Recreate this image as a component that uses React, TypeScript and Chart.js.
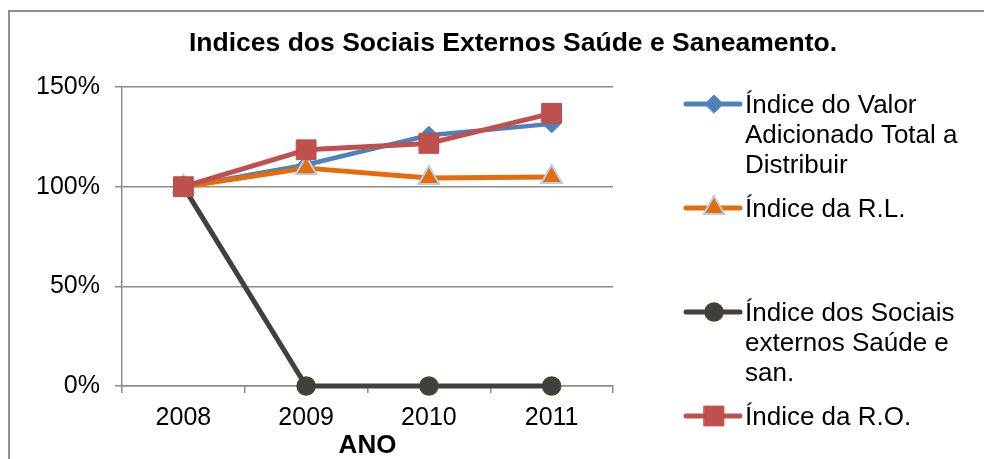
import React, { useEffect, useRef } from 'react';
import { Chart, registerables } from 'chart.js';
import { drawPoint } from 'chart.js/helpers';

Chart.register(...registerables);

// ---------- data ----------
const years = ['2008', '2009', '2010', '2011'];
const indiceValorAdicionado = [1.0, 1.11, 1.258, 1.315];
const indiceRL = [1.0, 1.093, 1.043, 1.048];
const indiceSociaisExternos = [1.0, 0, 0, 0];
const indiceRO = [1.0, 1.185, 1.217, 1.368];
const seriesLabels = [
  ['Índice do Valor', 'Adicionado Total a', 'Distribuir'],
  ['Índice da R.L.'],
  ['Índice dos Sociais', 'externos Saúde e', 'san.'],
  ['Índice da R.O.'],
];
const yTickValues = [0, 0.5, 1.0, 1.5];
const chartTitle = 'Indices dos Sociais Externos Saúde e Saneamento.';
const xAxisTitle = 'ANO';

const FONT = '"Liberation Sans", Arial, Helvetica, sans-serif';
const GRID = '#8c8c8c';

const titleAndLegend = {
  id: 'titleAndLegend',
  afterDraw(chart: any) {
    const ctx = chart.ctx as CanvasRenderingContext2D;
    // title
    ctx.save();
    ctx.fillStyle = '#000';
    ctx.font = `bold 26.5px ${FONT}`;
    ctx.textAlign = 'center';
    ctx.textBaseline = 'alphabetic';
    ctx.fillText(chartTitle, 513, 51);
    ctx.restore();

    // legend
    const x0 = 686;
    const x1 = 740;
    const tx = 745;
    const firstBaseline = 113;
    const step = 104;
    const lineGap = 30;
    chart.data.datasets.forEach((ds: any, i: number) => {
      const base = firstBaseline + i * step;
      const ly = base - 9;
      ctx.save();
      ctx.strokeStyle = ds.borderColor;
      ctx.lineWidth = 5;
      ctx.lineCap = 'round';
      ctx.beginPath();
      ctx.moveTo(x0, ly);
      ctx.lineTo(x1, ly);
      ctx.stroke();
      ctx.fillStyle = ds.pointBackgroundColor;
      ctx.strokeStyle = ds.pointBorderColor;
      ctx.lineWidth = ds.pointBorderWidth;
      drawPoint(
        ctx,
        { pointStyle: ds.pointStyle, radius: ds.pointRadius, borderWidth: ds.pointBorderWidth, rotation: 0 } as any,
        (x0 + x1) / 2 + 1,
        ly
      );
      ctx.fillStyle = '#000';
      ctx.font = `26px ${FONT}`;
      ctx.textAlign = 'left';
      ctx.textBaseline = 'alphabetic';
      seriesLabels[i].forEach((line, k) => {
        ctx.fillText(line, tx, base + k * lineGap);
      });
      ctx.restore();
    });
  },
};

export default function App() {
  const ref = useRef<HTMLCanvasElement | null>(null);

  useEffect(() => {
    if (!ref.current) return;
    const chart = new Chart(ref.current, {
      type: 'line',
      data: {
        labels: years,
        datasets: [
          {
            label: seriesLabels[0].join(' '),
            data: indiceValorAdicionado,
            borderColor: '#4F81BD',
            backgroundColor: '#4F81BD',
            borderWidth: 4.5,
            pointStyle: 'rectRot',
            pointRadius: 9,
            pointBackgroundColor: '#4F81BD',
            pointBorderColor: '#4F81BD',
            pointBorderWidth: 1,
            order: 4,
          },
          {
            label: seriesLabels[1].join(' '),
            data: indiceRL,
            borderColor: '#E46C0A',
            backgroundColor: '#E46C0A',
            borderWidth: 5,
            pointStyle: 'triangle',
            pointRadius: 12,
            pointBackgroundColor: '#E46C0A',
            pointBorderColor: '#B9CDE5',
            pointBorderWidth: 2,
            order: 3,
          },
          {
            label: seriesLabels[2].join(' '),
            data: indiceSociaisExternos,
            borderColor: '#404040',
            backgroundColor: '#404040',
            borderWidth: 5,
            pointStyle: 'circle',
            pointRadius: 9,
            pointBackgroundColor: '#404040',
            pointBorderColor: '#4a4426',
            pointBorderWidth: 1.5,
            order: 2,
          },
          {
            label: seriesLabels[3].join(' '),
            data: indiceRO,
            borderColor: '#C0504D',
            backgroundColor: '#C0504D',
            borderWidth: 5,
            pointStyle: 'rect',
            pointRadius: 14,
            pointBackgroundColor: '#C0504D',
            pointBorderColor: '#BC4C49',
            pointBorderWidth: 1,
            order: 1,
          },
        ].map((d) => ({
          ...d,
          tension: 0,
          clip: false,
          borderJoinStyle: 'round' as const,
          borderCapStyle: 'round' as const,
          fill: false,
        })),
      },
      options: {
        responsive: false,
        animation: false,
        layout: { padding: { left: 0, right: 0, top: 87, bottom: 0 } },
        plugins: {
          legend: { display: false },
          tooltip: { enabled: false },
          title: { display: false },
        },
        scales: {
          x: {
            offset: true,
            grid: {
              display: true,
              offset: true,
              drawOnChartArea: false,
              drawTicks: true,
              tickLength: 7,
              color: GRID,
              lineWidth: 1.5,
            },
            border: { display: true, color: GRID, width: 1.5 },
            ticks: { color: '#000', font: { family: FONT, size: 25 }, padding: 10, maxRotation: 0 },
            title: {
              display: true,
              text: xAxisTitle,
              color: '#000',
              font: { family: FONT, size: 26, weight: 'bold' },
              padding: { top: 0, bottom: -2 },
            },
            afterFit: (s: any) => {
              s.height = 73;
            },
          },
          y: {
            min: yTickValues[0],
            max: yTickValues[yTickValues.length - 1],
            grid: { color: GRID, lineWidth: 1.5, tickLength: 7 },
            border: { display: true, color: GRID, width: 1.5 },
            ticks: {
              stepSize: yTickValues[1] - yTickValues[0],
              color: '#000',
              font: { family: FONT, size: 25 },
              padding: 15,
              callback: (v: any) => `${Math.round(Number(v) * 100)}%`,
            },
            afterFit: (s: any) => {
              s.width = 122;
            },
          },
          legendSpace: {
            position: 'right',
            display: true,
            grid: { display: false, drawTicks: false },
            border: { display: false },
            ticks: { display: false },
            afterFit: (s: any) => {
              s.width = 371;
            },
          },
        },
      } as any,
      plugins: [titleAndLegend],
    });
    return () => chart.destroy();
  }, []);

  return (
    <div style={{ position: 'absolute', left: 0, top: 0, width: 984, height: 459, overflow: 'hidden', background: '#fff' }}>
      <div
        style={{
          position: 'absolute',
          left: 8,
          top: 10,
          width: 1100,
          height: 600,
          borderTop: '2px solid #8e8e8e',
          borderLeft: '2px solid #8e8e8e',
        }}
      />
      <canvas ref={ref} width={984} height={459} style={{ position: 'absolute', left: 0, top: 0, width: 984, height: 459 }} />
    </div>
  );
}
